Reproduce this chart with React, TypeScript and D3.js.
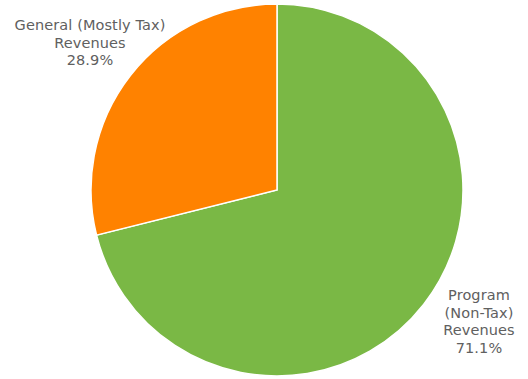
import React from "react";
import * as d3 from "d3";

const categories = ["Program (Non-Tax) Revenues", "General (Mostly Tax) Revenues"];
const values = [71.1, 28.9];
const labelLines = [
  ["Program", "(Non-Tax)", "Revenues", "71.1%"],
  ["General (Mostly Tax)", "Revenues", "28.9%"],
];
const colors = ["#7AB845", "#FF8200"];

export default function App() {
  const W = 528, H = 379;
  const cx = 277, cy = 190, r = 186;
  const pie = d3.pie<number>().sort(null).value((d) => d)(values);
  const arc = d3.arc<d3.PieArcDatum<number>>().innerRadius(0).outerRadius(r);
  const labelPos = [
    { x: 479, y: 300 },
    { x: 90, y: 30 },
  ];
  return (
    <svg width={W} height={H} style={{ position: "absolute", left: 0, top: 0 }}>
      <g transform={`translate(${cx},${cy})`}>
        {pie.map((p, i) => (
          <path key={categories[i]} d={arc(p) || ""} fill={colors[i]} stroke="#fff" strokeWidth={1.5} strokeLinejoin="miter" />
        ))}
      </g>
      {labelLines.map((lines, i) => (
        <text key={i} x={labelPos[i].x} y={labelPos[i].y} textAnchor="middle" fontFamily="'DejaVu Sans', sans-serif" fontSize={14.5} letterSpacing={0.1} fill="#606060">
          {lines.map((l, j) => (
            <tspan key={j} x={labelPos[i].x} dy={j === 0 ? 0 : 17.5}>{l}</tspan>
          ))}
        </text>
      ))}
    </svg>
  );
}
